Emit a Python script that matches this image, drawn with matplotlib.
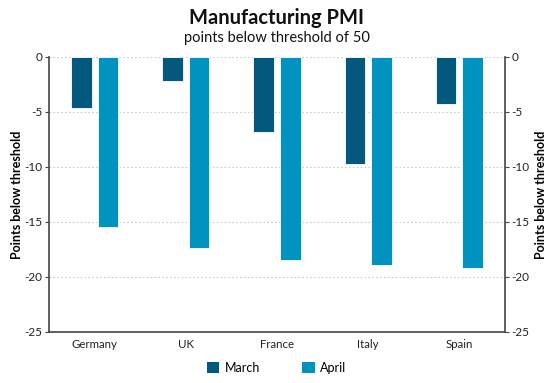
import matplotlib
matplotlib.use("Agg")
import matplotlib.pyplot as plt
import numpy as np
from matplotlib.patches import Patch

# ── Data ─────────────────────────────────────────────────────────────────────
countries = ["Germany", "UK", "France", "Italy", "Spain"]
march = [-4.6, -2.2, -6.8, -9.7, -4.3]
april = [-15.5, -17.4, -18.5, -18.9, -19.2]

yticks = [0, -5, -10, -15, -20, -25]

MARCH_COL = "#02597d"
APRIL_COL = "#0093c0"
AXIS_COL = "#444444"

plt.rcParams["font.family"] = ["Lato", "DejaVu Sans"]

fig = plt.figure(figsize=(5.53, 3.83), dpi=100)
ax = fig.add_axes([0.0886, 0.1332, 0.8246, 0.718])

x = np.arange(len(countries))
w = 0.227
off = 0.146
ax.bar(x - off, march, width=w, color=MARCH_COL, edgecolor="white", linewidth=0.6, zorder=3)
ax.bar(x + off, april, width=w, color=APRIL_COL, edgecolor="white", linewidth=0.6, zorder=3)

ax.set_xlim(-0.5, len(countries) - 0.5)
ax.set_ylim(-25, 0)
ax.set_yticks(yticks)
ax.set_yticklabels([str(t) for t in yticks], fontsize=8.5, color="#222222")
ax.set_xticks(x)
ax.set_xticklabels(countries, fontsize=8.3, color="#222222")
ax.tick_params(axis="x", length=0, pad=5)
ax.tick_params(axis="y", length=3, width=0.8, color=AXIS_COL, pad=1.5)

for t in yticks[:-1]:
    ax.axhline(t, color="#cccccc", linestyle=(0, (1.5, 2)), linewidth=0.8, zorder=1)

for s in ["left", "bottom"]:
    ax.spines[s].set_color(AXIS_COL)
    ax.spines[s].set_linewidth(1.2)
ax.spines["top"].set_visible(False)
ax.spines["right"].set_visible(False)

ax.set_ylabel("Points below threshold", fontsize=9, fontweight="bold", labelpad=1)

# mirrored axis on the right
ax2 = ax.twinx()
ax2.set_ylim(ax.get_ylim())
ax2.set_yticks(yticks)
ax2.set_yticklabels([str(t) for t in yticks], fontsize=8.5, color="#222222")
ax2.tick_params(axis="y", length=3, width=0.8, color=AXIS_COL, pad=1.5)
for s in ["left", "top", "bottom"]:
    ax2.spines[s].set_visible(False)
ax2.spines["right"].set_color(AXIS_COL)
ax2.spines["right"].set_linewidth(1.2)
ax2.set_ylabel("Points below threshold", fontsize=9, fontweight="bold", labelpad=4)

fig.text(0.5, 0.952, "Manufacturing PMI", ha="center", va="center",
         fontsize=14.5, fontweight="bold", color="#111111")
fig.text(0.5, 0.901, "points below threshold of 50", ha="center", va="center",
         fontsize=10.5, color="#111111")

legend_elements = [
    Patch(facecolor=MARCH_COL, label="March"),
    Patch(facecolor=APRIL_COL, label="April"),
]
fig.legend(handles=legend_elements, loc="center", bbox_to_anchor=(0.5, 0.04),
           ncol=2, frameon=False, fontsize=9, handlelength=1.0, handleheight=1.0,
           columnspacing=3.4, handletextpad=0.4)

plt.savefig("out.png", dpi=100)
